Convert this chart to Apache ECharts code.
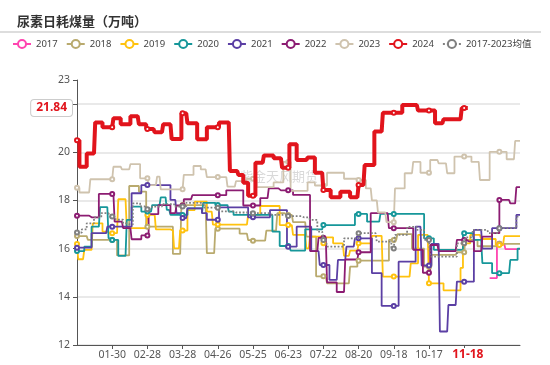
<!DOCTYPE html>
<html><head><meta charset="utf-8">
<script src="https://cdn.jsdelivr.net/npm/echarts@6/dist/echarts.min.js"></script>
<style>html,body{margin:0;padding:0;background:#fff}#c{width:550px;height:365px}</style>
</head><body><div id="c"></div>
<script>
// Categories: daily MM-DD for a leap year
const monthDays = [31,29,31,30,31,30,31,31,30,31,30,31];
const categories = [];
monthDays.forEach((n, m) => { for (let d = 1; d <= n; d++) categories.push(String(m + 1).padStart(2, '0') + '-' + String(d).padStart(2, '0')); });

const seriesNames = ['2017','2018','2019','2020','2021','2022','2023','2024','2017-2023均值'];
// Change points [dayIndex, value] (weekly values held until next change)
const y2017 = [[340,14.78],[346,16.2],[353,15.98]];
const y2018 = [[0,16.52],[9,16.36],[33,15.72],[43,18.6],[51,18.37],[57,16.91],[79,15.78],[86,17.81],[107,15.81],[114,16.83],[134,16.62],[141,16.35],[145,16.33],[156,16.75],[165,17.47],[172,17.4],[178,17.1],[189,16.5],[197,14.85],[206,14.56],[225,15.25],[231,15.5],[257,16.36],[264,16.6],[276,16.0],[286,15.25],[292,15.74],[313,15.85],[320,16.36],[330,16.1],[348,16.2]];
const y2019 = [[0,16.19],[1,15.56],[6,15.95],[13,17.05],[21,16.71],[26,16.64],[34,18.05],[41,16.85],[58,17.4],[65,16.8],[77,16.75],[80,16.01],[85,16.75],[91,17.6],[97,17.95],[107,17.54],[112,17.0],[141,17.4],[151,17.77],[167,16.98],[178,16.57],[189,16.01],[192,16.5],[202,16.22],[205,16.47],[211,16.22],[220,15.7],[225,15.92],[232,16.22],[243,16.53],[252,14.84],[275,15.39],[281,16.57],[290,14.56],[302,14.27],[316,15.2],[318,16.22],[324,16.57],[333,16.4],[345,16.15],[352,16.52]];
const y2020 = [[0,15.9],[6,16.08],[12,16.91],[19,17.72],[26,16.43],[29,16.36],[34,15.7],[41,17.19],[45,17.74],[53,17.54],[62,17.81],[69,18.13],[74,17.61],[77,17.4],[91,17.67],[103,17.47],[104,17.9],[114,17.81],[125,17.54],[129,17.4],[161,16.71],[167,16.11],[176,15.92],[188,16.8],[203,16.98],[229,17.44],[239,17.12],[250,17.44],[286,16.43],[294,15.95],[318,16.64],[327,16.36],[334,15.4],[342,14.98],[357,15.53],[363,16.0]];
const y2021 = [[0,16.04],[12,16.64],[25,16.91],[45,18.3],[53,18.64],[77,18.02],[82,17.47],[86,17.27],[91,17.67],[103,17.47],[107,17.2],[117,17.71],[141,17.3],[159,17.6],[173,16.08],[181,16.91],[193,15.9],[200,15.32],[208,14.7],[215,15.53],[222,16.08],[229,16.43],[243,14.98],[251,13.62],[265,15.46],[279,16.91],[284,15.3],[292,16.2],[299,12.56],[306,13.66],[313,14.63],[327,16.78],[334,16.0],[342,16.85],[362,17.4]];
const y2022 = [[0,17.37],[11,17.3],[18,18.27],[31,17.12],[38,16.85],[45,16.39],[53,16.55],[59,17.43],[67,17.81],[77,17.47],[82,17.79],[88,18.05],[95,18.22],[123,18.42],[137,17.79],[151,18.1],[158,18.5],[167,18.42],[178,18.23],[192,15.9],[199,16.45],[206,14.6],[214,14.2],[221,15.55],[232,15.85],[242,17.47],[257,16.85],[277,15.95],[285,15.0],[291,16.15],[298,15.9],[313,16.36],[321,16.3],[327,15.9],[334,16.5],[342,16.64],[348,18.02],[357,17.88],[362,18.55]];
const y2023 = [[0,18.53],[2,18.33],[11,18.88],[30,19.4],[37,19.29],[44,19.51],[52,18.92],[59,18.64],[66,18.99],[69,18.46],[88,19.06],[96,19.43],[102,19.29],[107,18.97],[124,18.57],[131,18.8],[140,18.9],[148,18.55],[162,18.75],[170,19.6],[176,18.4],[190,18.75],[196,18.62],[206,19.15],[220,18.9],[232,18.85],[238,18.5],[243,18.0],[248,17.5],[255,17.1],[262,18.5],[270,19.13],[277,19.6],[283,19.15],[291,19.68],[298,19.54],[305,19.13],[311,19.82],[325,19.6],[332,18.85],[340,20.02],[354,19.71],[361,20.47]];
const y2024 = [[0,20.5],[2,19.4],[8,19.95],[15,21.24],[21,21.04],[30,21.41],[36,21.16],[44,21.5],[51,21.16],[57,20.97],[64,20.83],[71,21.16],[78,20.55],[86,21.62],[91,21.2],[99,20.54],[107,21.04],[117,21.24],[126,19.22],[133,19.06],[137,18.74],[141,18.2],[147,19.57],[154,19.87],[162,19.75],[169,19.36],[175,20.33],[181,19.68],[190,19.78],[196,19.15],[203,18.43],[209,18.13],[217,18.36],[225,18.13],[232,18.64],[237,19.47],[245,20.86],[252,21.64],[268,21.96],[281,21.73],[295,21.2],[302,21.37],[317,21.84]];
const yMean = [[0,16.67],[4,16.8],[8,17.05],[14,17.3],[20,17.47],[27,17.33],[32,17.2],[38,17.05],[43,17.0],[46,17.88],[52,17.75],[57,17.63],[62,17.75],[70,17.85],[80,17.75],[90,17.9],[99,17.9],[105,17.7],[117,17.55],[130,17.5],[145,17.47],[160,17.4],[174,17.35],[185,17.3],[192,17.19],[198,16.71],[203,16.36],[206,16.08],[220,16.43],[232,16.64],[247,16.29],[259,16.01],[262,16.57],[272,16.9],[280,16.78],[286,16.36],[291,15.67],[313,16.22],[320,16.47],[326,16.78],[339,16.64],[348,16.85],[362,17.33]];
const lastDayAll = 365;
const lastDay2024 = 321;
const currentDate = '11-18';
const lastValue2024 = 21.84;

const colors = ['#ff44b0','#b9aa6e','#ffc20e','#16979a','#5b3fa4','#8c1c72','#cfc3ae','#e1141c','#808080'];

function expand(pts, end) {
  const out = new Array(categories.length).fill(null);
  for (let k = 0; k < pts.length; k++) {
    const s = pts[k][0];
    const e = k + 1 < pts.length ? pts[k + 1][0] : end + 1;
    for (let i = s; i < e; i++) out[i] = pts[k][1];
  }
  return out;
}

const raw = [y2017, y2018, y2019, y2020, y2021, y2022, y2023, y2024, yMean];
const series = raw.map((pts, idx) => {
  const is2024 = idx === 7, isMean = idx === 8;
  return {
    name: seriesNames[idx], type: 'line', step: 'end',
    data: expand(pts, is2024 ? lastDay2024 : lastDayAll),
    symbol: 'emptyCircle', symbolSize: 4, showAllSymbol: 'auto',
    color: colors[idx],
    lineStyle: { color: colors[idx], width: is2024 ? 4 : 1.8, type: isMean ? 'dotted' : 'solid' },
    itemStyle: { color: colors[idx], borderWidth: 1 },
    z: is2024 ? 5 : (isMean ? 4 : 2),
    animation: false
  };
});

const chart = echarts.init(document.getElementById('c'), null, { renderer: 'canvas' });
const FONT = "'Noto Sans','Noto Sans CJK SC',sans-serif";
chart.setOption({
  backgroundColor: '#fff',
  textStyle: { fontFamily: FONT },
  title: { text: '尿素日耗煤量（万吨）', left: 12, top: 10, textStyle: { fontSize: 13, fontWeight: 'bold', color: '#333', fontFamily: "'Noto Sans CJK SC',sans-serif" } },
  legend: { data: seriesNames, left: 7, top: 34, width: 543, itemWidth: 18, itemHeight: 10, itemGap: 8, textStyle: { fontSize: 9.5, color: '#444' } },
  graphic: [
    { type: 'line', shape: { x1: 0, y1: 32, x2: 541, y2: 32 }, style: { stroke: '#dddddd', lineWidth: 2 }, silent: true },
    { type: 'text', left: 240, top: 170, style: { text: '紫金天风期货', fill: 'rgba(170,170,170,0.45)', font: "13px 'Noto Sans CJK SC'" }, silent: true, z: 0 }
  ],
  grid: { left: 77, right: 30, top: 80, bottom: 20 },
  xAxis: {
    type: 'category', data: categories, boundaryGap: false,
    axisLine: { lineStyle: { color: '#555' } },
    axisTick: { show: true, interval: 28, length: 4, lineStyle: { color: '#555' } },
    axisLabel: { interval: 28, showMinLabel: false, showMaxLabel: false, color: '#555', fontSize: 10.5, margin: 5 },
    splitLine: { show: false },
    axisPointer: { show: true, status: 'show', value: categories.indexOf(currentDate), triggerTooltip: false, lineStyle: { opacity: 0 },
      label: { show: true, color: '#e1141c', fontWeight: 'bold', fontSize: 12, backgroundColor: '#fff', padding: [1, 2], margin: 3 } }
  },
  yAxis: {
    type: 'value', min: 12, max: 23, interval: 2,
    axisLine: { show: true, lineStyle: { color: '#555' } },
    axisTick: { show: true, length: 4, lineStyle: { color: '#555' } },
    axisLabel: { color: '#555', fontSize: 10.5, margin: 7 },
    splitLine: { showMaxLine: false, lineStyle: { color: '#e2e2e2', width: 1.5 } },
    axisPointer: { show: true, status: 'show', value: lastValue2024, triggerTooltip: false, lineStyle: { opacity: 0 },
      label: { show: true, formatter: () => lastValue2024.toFixed(2), color: '#e1141c', fontWeight: 'bold', fontSize: 12, backgroundColor: '#fff', borderColor: '#cccccc', borderWidth: 1, padding: [2, 5], margin: 5 } }
  },
  series: series
});
</script></body></html>
